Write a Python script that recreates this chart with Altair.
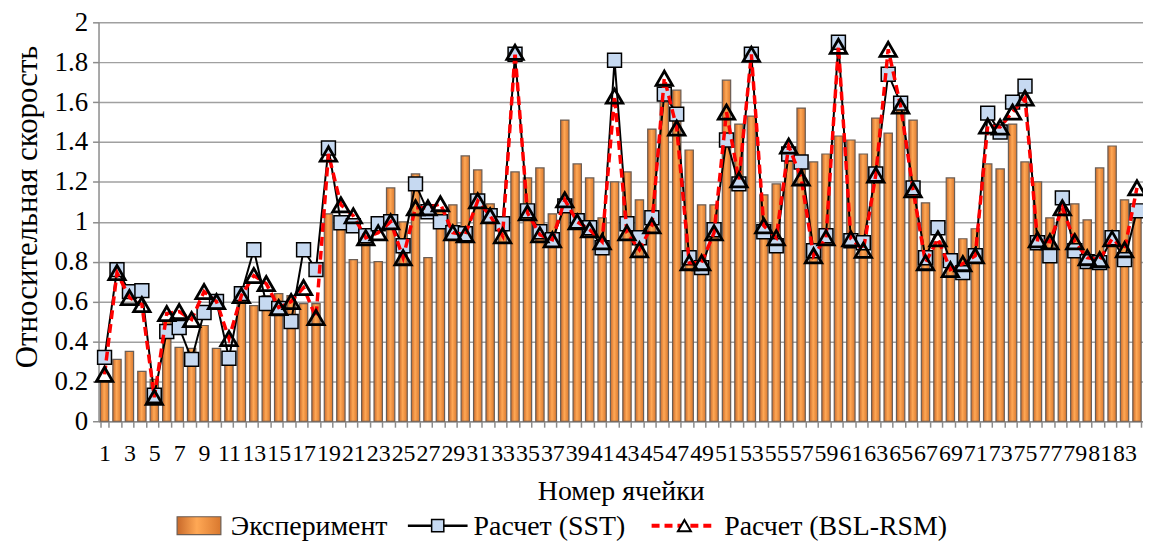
import altair as alt
import pandas as pd

cells = list(range(1, 85))

experiment = [
    0.20, 0.31, 0.35, 0.25, 0.21, 0.50, 0.37, 0.365, 0.48, 0.365,
    0.33, 0.62, 0.58, 0.63, 0.64, 0.63, 0.59, 0.59, 1.04, 1.00,
    0.81, 0.92, 0.80, 1.17, 1.00, 1.24, 0.82, 1.06, 1.085, 1.33,
    1.26, 1.09, 0.98, 1.25, 1.22, 1.27, 1.04, 1.51, 1.29, 1.22,
    1.02, 1.20, 1.25, 1.11, 1.465, 1.60, 1.66, 1.36, 1.085, 1.085,
    1.71, 1.49, 1.53, 1.135, 1.19, 1.35, 1.57, 1.30, 1.34, 1.43,
    1.41, 1.34, 1.52, 1.445, 1.60, 1.51, 1.095, 0.90, 1.22, 0.915,
    0.965, 1.29, 1.265, 1.49, 1.30, 1.20, 1.02, 1.06, 1.09, 1.01,
    1.27, 1.38, 1.11, 1.04,
]

sst = [
    0.32, 0.76, 0.65, 0.655, 0.13, 0.45, 0.47, 0.31, 0.545, 0.60,
    0.316, 0.64, 0.86, 0.59, 0.565, 0.50, 0.86, 0.76, 1.37, 0.995,
    0.98, 0.93, 0.99, 1.00, 0.88, 1.19, 1.05, 1.00, 0.945, 0.94,
    1.105, 1.03, 0.99, 1.84, 1.055, 0.95, 0.91, 1.08, 1.005, 0.97,
    0.87, 1.81, 0.99, 0.92, 1.02, 1.64, 1.54, 0.82, 0.77, 0.96,
    1.41, 1.19, 1.84, 0.95, 0.88, 1.34, 1.30, 0.855, 0.93, 1.90,
    0.905, 0.895, 1.24, 1.74, 1.595, 1.17, 0.82, 0.97, 0.805, 0.745,
    0.83, 1.545, 1.45, 1.60, 1.68, 0.895, 0.83, 1.12, 0.855, 0.80,
    0.795, 0.92, 0.81, 1.055,
]

bsl = [
    0.235, 0.745, 0.62, 0.585, 0.12, 0.54, 0.55, 0.51, 0.65, 0.60,
    0.415, 0.63, 0.73, 0.69, 0.57, 0.60, 0.67, 0.52, 1.34, 1.085,
    1.03, 0.92, 0.945, 1.00, 0.82, 1.07, 1.07, 1.09, 0.945, 0.935,
    1.105, 1.03, 0.93, 1.85, 1.045, 0.935, 0.91, 1.11, 1.00, 0.96,
    0.90, 1.63, 0.945, 0.86, 0.98, 1.72, 1.47, 0.795, 0.795, 0.945,
    1.55, 1.21, 1.84, 0.98, 0.92, 1.38, 1.22, 0.83, 0.92, 1.88,
    0.915, 0.857, 1.235, 1.865, 1.58, 1.16, 0.795, 0.915, 0.76, 0.79,
    0.83, 1.48, 1.475, 1.55, 1.62, 0.91, 0.90, 1.07, 0.90, 0.82,
    0.81, 0.915, 0.86, 1.17,
]

y_ticks = [0, 0.2, 0.4, 0.6, 0.8, 1.0, 1.2, 1.4, 1.6, 1.8, 2.0]

legend_labels = ["Эксперимент", "Расчет (SST)", "Расчет (BSL-RSM)"]

df = pd.DataFrame({"cell": cells, "exp": experiment, "sst": sst, "bsl": bsl})

FONT = "Liberation Serif, Times New Roman, serif"
W, H = 1050, 401

x_enc = alt.X(
    "cell:O",
    scale=alt.Scale(paddingInner=0.33, paddingOuter=0.15),
    axis=alt.Axis(
        title="Номер ячейки",
        labelAngle=0,
        labelExpr="datum.value % 2 == 1 ? datum.label : ''",
        labelOverlap=False,
        tickBand="extent",
        tickSize=6,
        labelPadding=14,
        labelFontSize=24,
        titleFontSize=28,
        titlePadding=13,
        titleFontWeight="normal",
        grid=False,
        domainColor="#8c8c8c",
        tickColor="#8c8c8c",
        domainWidth=1.5,
        tickWidth=1.5,
        labelColor="black",
        titleColor="black",
    ),
)

y_scale = alt.Scale(domain=[0, 2], nice=False)
y_axis = alt.Axis(
    title="Относительная скорость",
    values=y_ticks,
    format=".1~f",
    grid=True,
    gridColor="#a0a0a0",
    gridWidth=1.5,
    tickSize=6,
    labelPadding=5,
    labelFontSize=27,
    titleFontSize=31,
    titlePadding=11,
    titleY=185,
    titleFontWeight="normal",
    domainColor="#8c8c8c",
    tickColor="#8c8c8c",
    domainWidth=1.5,
    tickWidth=1.5,
    labelColor="black",
    titleColor="black",
)

bar_fill = alt.Gradient(
    gradient="linear",
    x1=0, x2=1, y1=0, y2=0,
    stops=[
        alt.GradientStop(offset=0, color="#C8692A"),
        alt.GradientStop(offset=0.45, color="#FFA855"),
        alt.GradientStop(offset=1, color="#D9782E"),
    ],
)

base = alt.Chart(df)

bars = base.mark_bar(
    color=bar_fill, stroke="#6b5e55", strokeWidth=1.2
).encode(x=x_enc, y=alt.Y("exp:Q", scale=y_scale, axis=y_axis))

sst_line = base.mark_line(color="black", strokeWidth=2).encode(
    x=alt.X("cell:O"), y=alt.Y("sst:Q", scale=y_scale)
)
sst_pts = base.mark_point(
    shape="square", size=195, filled=True, fill="#C6D9F1",
    stroke="black", strokeWidth=1.5, opacity=1
).encode(x=alt.X("cell:O"), y=alt.Y("sst:Q", scale=y_scale))

bsl_line = base.mark_line(
    color="#FF0000", strokeWidth=3.5, strokeDash=[9, 5]
).encode(x=alt.X("cell:O"), y=alt.Y("bsl:Q", scale=y_scale))
bsl_pts = base.mark_point(
    shape="triangle-up", size=270, filled=False,
    stroke="black", strokeWidth=2.8, opacity=1
).encode(x=alt.X("cell:O"), y=alt.Y("bsl:Q", scale=y_scale))

# ---- manual legend (positions relative to plot origin) ----
one = alt.Chart(pd.DataFrame({"k": [0]}))
LY = 506
leg_rect = one.mark_rect(color=bar_fill, stroke="#6b5e55", strokeWidth=1.2).encode(
    x=alt.value(79), x2=alt.value(123), y=alt.value(LY - 9), y2=alt.value(LY + 9)
)
leg_sst_line = one.mark_rule(color="black", strokeWidth=2.5).encode(
    x=alt.value(311), x2=alt.value(371), y=alt.value(LY)
)
leg_sst_pt = one.mark_point(
    shape="square", size=150, filled=True, fill="#C6D9F1",
    stroke="black", strokeWidth=1.5, opacity=1
).encode(x=alt.value(341), y=alt.value(LY))
leg_bsl_line = one.mark_rule(color="#FF0000", strokeWidth=4, strokeDash=[8, 5]).encode(
    x=alt.value(556), x2=alt.value(621), y=alt.value(LY)
)
leg_bsl_pt = one.mark_point(
    shape="triangle-up", size=170, filled=True, fill="white",
    stroke="black", strokeWidth=2, opacity=1
).encode(x=alt.value(589), y=alt.value(LY))

def leg_text(x, t):
    return one.mark_text(
        align="left", baseline="middle", font=FONT, fontSize=28, color="black"
    ).encode(x=alt.value(x), y=alt.value(LY + 1), text=alt.value(t))

legend = (
    leg_rect + leg_sst_line + leg_sst_pt + leg_bsl_line + leg_bsl_pt
    + leg_text(133, legend_labels[0])
    + leg_text(377, legend_labels[1])
    + leg_text(629, legend_labels[2])
)

chart = (
    alt.layer(bars, sst_line, sst_pts, bsl_line, bsl_pts, legend)
    .properties(
        width=W, height=H,
        autosize=alt.AutoSizeParams(type="none"),
        padding={"left": 91, "top": 13, "right": 0, "bottom": 122},
        background="white",
    )
    .configure_view(stroke=None)
    .configure_axis(labelFont=FONT, titleFont=FONT)
    .configure_text(font=FONT)
)

chart.save("out.html", embed_options={"renderer": "svg", "actions": False})
